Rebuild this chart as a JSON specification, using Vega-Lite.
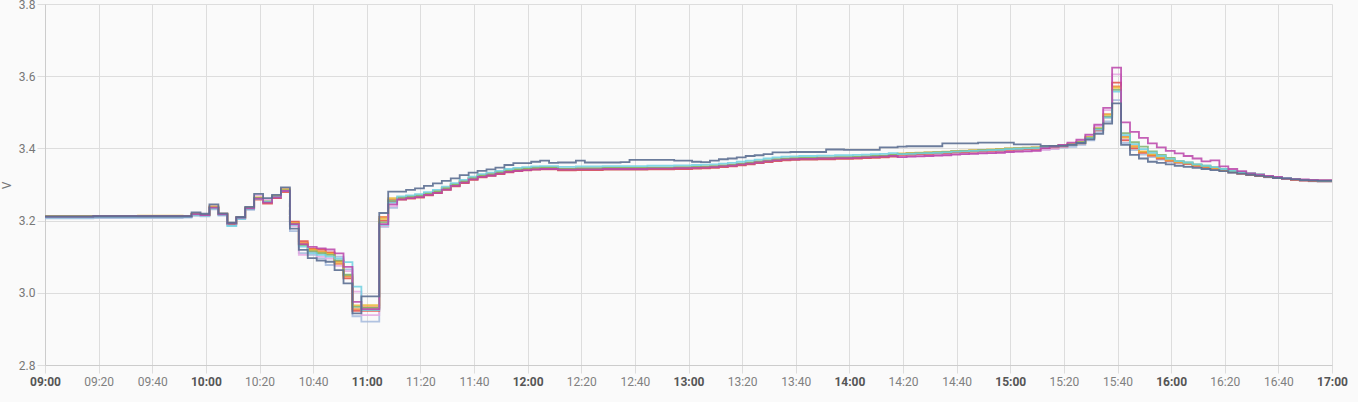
{
  "$schema": "https://vega.github.io/schema/vega-lite/v6.json",
  "autosize": "none",
  "width": 1287,
  "height": 361,
  "padding": {"left": 45, "top": 4, "right": 26, "bottom": 37},
  "background": "#fafafa",
  "config": {
    "view": {"stroke": null},
    "font": "Roboto",
    "axis": {
      "gridColor": "#dddddd",
      "domainColor": "#cccccc",
      "tickColor": "#dddddd",
      "tickSize": 8,
      "labelFont": "Roboto",
      "labelFontSize": 12,
      "labelColor": "#777777"
    }
  },
  "datasets": {
    "A": [
      {"t":-120,"v":3.211},{"t":1080,"v":3.212},{"t":2080,"v":3.212},{"t":3080,"v":3.212},
      {"t":3280,"v":3.223},{"t":3480,"v":3.219},{"t":3680,"v":3.245},{"t":3880,"v":3.22},{"t":4080,"v":3.194},{"t":4280,"v":3.21},{"t":4480,"v":3.238},{"t":4680,"v":3.274},{"t":4880,"v":3.262},{"t":5080,"v":3.271},{"t":5280,"v":3.292},
      {"t":5480,"v":3.178},{"t":5680,"v":3.119},{"t":5880,"v":3.096},{"t":6080,"v":3.089},{"t":6280,"v":3.086},{"t":6480,"v":3.063},{"t":6680,"v":3.026},{"t":6880,"v":2.943},{"t":7080,"v":2.99},{"t":7480,"v":3.221},{"t":7680,"v":3.28},
      {"t":7880,"v":3.28},{"t":8080,"v":3.285},{"t":8280,"v":3.289},{"t":8480,"v":3.296},{"t":8680,"v":3.303},{"t":8880,"v":3.31},{"t":9080,"v":3.317},{"t":9280,"v":3.326},{"t":9480,"v":3.333},{"t":9680,"v":3.338},{"t":9880,"v":3.342},{"t":10080,"v":3.347},{"t":10280,"v":3.354},{"t":10480,"v":3.359},{"t":10680,"v":3.359},{"t":10880,"v":3.363},{"t":11080,"v":3.366},{"t":11280,"v":3.36},
      {"t":11480,"v":3.361},{"t":11680,"v":3.361},{"t":11880,"v":3.366},{"t":12080,"v":3.361},{"t":12280,"v":3.361},{"t":12480,"v":3.361},{"t":12680,"v":3.361},{"t":12880,"v":3.362},{"t":13080,"v":3.368},{"t":13280,"v":3.368},{"t":13480,"v":3.368},{"t":13680,"v":3.368},{"t":13880,"v":3.368},{"t":14080,"v":3.366},{"t":14280,"v":3.366},{"t":14480,"v":3.363},{"t":14680,"v":3.362},{"t":14880,"v":3.366},{"t":15080,"v":3.37},{"t":15280,"v":3.372},{"t":15480,"v":3.375},{"t":15680,"v":3.379},{"t":15880,"v":3.381},{"t":16080,"v":3.384},{"t":16280,"v":3.389},{"t":16480,"v":3.389},{"t":16680,"v":3.39},{"t":16880,"v":3.39},{"t":17080,"v":3.39},{"t":17280,"v":3.39},{"t":17480,"v":3.397},{"t":17680,"v":3.397},{"t":17880,"v":3.396},{"t":18080,"v":3.396},{"t":18280,"v":3.396},{"t":18480,"v":3.396},{"t":18680,"v":3.403},{"t":18880,"v":3.403},
      {"t":19080,"v":3.405},{"t":19280,"v":3.406},{"t":19480,"v":3.406},{"t":19680,"v":3.406},{"t":19880,"v":3.406},{"t":20080,"v":3.414},{"t":20280,"v":3.414},{"t":20480,"v":3.414},{"t":20680,"v":3.414},{"t":20880,"v":3.416},{"t":21080,"v":3.416},{"t":21280,"v":3.416},{"t":21480,"v":3.416},{"t":21680,"v":3.411},{"t":21880,"v":3.411},{"t":22080,"v":3.411},{"t":22280,"v":3.407},{"t":22480,"v":3.407},{"t":22680,"v":3.407},
      {"t":22880,"v":3.41},{"t":23080,"v":3.415},{"t":23280,"v":3.425},{"t":23480,"v":3.44},{"t":23680,"v":3.469},{"t":23880,"v":3.525},{"t":24080,"v":3.41},{"t":24280,"v":3.382},{"t":24480,"v":3.372},{"t":24680,"v":3.363},{"t":24880,"v":3.36},{"t":25080,"v":3.356},
      {"t":25280,"v":3.352},{"t":25480,"v":3.349},{"t":25680,"v":3.346},{"t":25880,"v":3.343},{"t":26080,"v":3.34},{"t":26280,"v":3.337},{"t":26480,"v":3.333},{"t":26680,"v":3.33},{"t":26880,"v":3.327},{"t":27080,"v":3.324},{"t":27280,"v":3.321},{"t":27480,"v":3.318},{"t":27680,"v":3.316},{"t":27880,"v":3.314},{"t":28080,"v":3.312},{"t":28280,"v":3.311},{"t":28480,"v":3.31},{"t":28680,"v":3.31},{"t":28880,"v":3.31}
    ],
    "B": [
      {"t":-120,"v":3.212},{"t":1080,"v":3.213},{"t":2080,"v":3.213},{"t":3080,"v":3.213},
      {"t":3280,"v":3.218},{"t":3480,"v":3.215},{"t":3680,"v":3.236},{"t":3880,"v":3.218},{"t":4080,"v":3.192},{"t":4280,"v":3.208},{"t":4480,"v":3.234},{"t":4680,"v":3.262},{"t":4880,"v":3.252},{"t":5080,"v":3.266},{"t":5280,"v":3.284},
      {"t":5480,"v":3.19},{"t":5680,"v":3.132},{"t":5880,"v":3.115},{"t":6080,"v":3.11},{"t":6280,"v":3.105},{"t":6480,"v":3.09},{"t":6680,"v":3.05},{"t":6880,"v":2.961},{"t":7080,"v":2.958},{"t":7480,"v":3.195},{"t":7680,"v":3.255},
      {"t":7880,"v":3.263},{"t":8080,"v":3.266},{"t":8280,"v":3.269},{"t":8480,"v":3.275},{"t":8680,"v":3.281},{"t":8880,"v":3.29},{"t":9080,"v":3.3},{"t":9280,"v":3.309},{"t":9480,"v":3.318},{"t":9680,"v":3.325},{"t":9880,"v":3.329},{"t":10080,"v":3.334},{"t":10280,"v":3.339},{"t":10480,"v":3.342},{"t":10680,"v":3.344},{"t":10880,"v":3.346},{"t":11080,"v":3.347},{"t":11280,"v":3.347},
      {"t":11480,"v":3.344},{"t":11680,"v":3.344},{"t":11880,"v":3.345},{"t":12080,"v":3.345},{"t":12280,"v":3.345},{"t":12480,"v":3.346},{"t":12680,"v":3.346},{"t":12880,"v":3.346},{"t":13080,"v":3.346},{"t":13280,"v":3.346},{"t":13480,"v":3.347},{"t":13680,"v":3.347},{"t":13880,"v":3.347},{"t":14080,"v":3.348},{"t":14280,"v":3.348},{"t":14480,"v":3.349},{"t":14680,"v":3.35},{"t":14880,"v":3.351},{"t":15080,"v":3.353},{"t":15280,"v":3.355},{"t":15480,"v":3.358},{"t":15680,"v":3.361},{"t":15880,"v":3.364},{"t":16080,"v":3.367},{"t":16280,"v":3.37},{"t":16480,"v":3.372},{"t":16680,"v":3.373},{"t":16880,"v":3.374},{"t":17080,"v":3.374},{"t":17280,"v":3.375},{"t":17480,"v":3.375},{"t":17680,"v":3.376},{"t":17880,"v":3.376},{"t":18080,"v":3.377},{"t":18280,"v":3.378},{"t":18480,"v":3.379},{"t":18680,"v":3.38},{"t":18880,"v":3.382},
      {"t":19080,"v":3.385},{"t":19280,"v":3.386},{"t":19480,"v":3.387},{"t":19680,"v":3.388},{"t":19880,"v":3.389},{"t":20080,"v":3.39},{"t":20280,"v":3.392},{"t":20480,"v":3.393},{"t":20680,"v":3.394},{"t":20880,"v":3.395},{"t":21080,"v":3.396},{"t":21280,"v":3.397},{"t":21480,"v":3.399},{"t":21680,"v":3.4},{"t":21880,"v":3.401},{"t":22080,"v":3.402},{"t":22280,"v":3.404},{"t":22480,"v":3.406},{"t":22680,"v":3.409},
      {"t":22880,"v":3.411},{"t":23080,"v":3.417},{"t":23280,"v":3.43},{"t":23480,"v":3.455},{"t":23680,"v":3.488},{"t":23880,"v":3.562},{"t":24080,"v":3.442},{"t":24280,"v":3.417},{"t":24480,"v":3.405},{"t":24680,"v":3.392},{"t":24880,"v":3.382},{"t":25080,"v":3.374},
      {"t":25280,"v":3.365},{"t":25480,"v":3.361},{"t":25680,"v":3.356},{"t":25880,"v":3.352},{"t":26080,"v":3.348},{"t":26280,"v":3.343},{"t":26480,"v":3.338},{"t":26680,"v":3.334},{"t":26880,"v":3.331},{"t":27080,"v":3.328},{"t":27280,"v":3.323},{"t":27480,"v":3.321},{"t":27680,"v":3.318},{"t":27880,"v":3.315},{"t":28080,"v":3.313},{"t":28280,"v":3.312},{"t":28480,"v":3.311},{"t":28680,"v":3.311},{"t":28880,"v":3.311}
    ],
    "C": [
      {"t":-120,"v":3.212},{"t":1080,"v":3.213},{"t":2080,"v":3.214},{"t":3080,"v":3.213},
      {"t":3280,"v":3.219},{"t":3480,"v":3.216},{"t":3680,"v":3.239},{"t":3880,"v":3.219},{"t":4080,"v":3.193},{"t":4280,"v":3.209},{"t":4480,"v":3.236},{"t":4680,"v":3.264},{"t":4880,"v":3.254},{"t":5080,"v":3.268},{"t":5280,"v":3.287},
      {"t":5480,"v":3.192},{"t":5680,"v":3.135},{"t":5880,"v":3.118},{"t":6080,"v":3.112},{"t":6280,"v":3.108},{"t":6480,"v":3.085},{"t":6680,"v":3.048},{"t":6880,"v":2.965},{"t":7080,"v":2.966},{"t":7480,"v":3.205},{"t":7680,"v":3.262},
      {"t":7880,"v":3.264},{"t":8080,"v":3.267},{"t":8280,"v":3.27},{"t":8480,"v":3.276},{"t":8680,"v":3.282},{"t":8880,"v":3.291},{"t":9080,"v":3.301},{"t":9280,"v":3.31},{"t":9480,"v":3.319},{"t":9680,"v":3.326},{"t":9880,"v":3.33},{"t":10080,"v":3.335},{"t":10280,"v":3.34},{"t":10480,"v":3.343},{"t":10680,"v":3.345},{"t":10880,"v":3.347},{"t":11080,"v":3.348},{"t":11280,"v":3.348},
      {"t":11480,"v":3.343},{"t":11680,"v":3.343},{"t":11880,"v":3.344},{"t":12080,"v":3.344},{"t":12280,"v":3.344},{"t":12480,"v":3.345},{"t":12680,"v":3.345},{"t":12880,"v":3.345},{"t":13080,"v":3.345},{"t":13280,"v":3.345},{"t":13480,"v":3.346},{"t":13680,"v":3.346},{"t":13880,"v":3.346},{"t":14080,"v":3.347},{"t":14280,"v":3.347},{"t":14480,"v":3.348},{"t":14680,"v":3.349},{"t":14880,"v":3.35},{"t":15080,"v":3.352},{"t":15280,"v":3.354},{"t":15480,"v":3.357},{"t":15680,"v":3.36},{"t":15880,"v":3.363},{"t":16080,"v":3.366},{"t":16280,"v":3.369},{"t":16480,"v":3.371},{"t":16680,"v":3.372},{"t":16880,"v":3.373},{"t":17080,"v":3.373},{"t":17280,"v":3.374},{"t":17480,"v":3.374},{"t":17680,"v":3.375},{"t":17880,"v":3.375},{"t":18080,"v":3.376},{"t":18280,"v":3.377},{"t":18480,"v":3.378},{"t":18680,"v":3.379},{"t":18880,"v":3.381},
      {"t":19080,"v":3.386},{"t":19280,"v":3.387},{"t":19480,"v":3.388},{"t":19680,"v":3.389},{"t":19880,"v":3.39},{"t":20080,"v":3.391},{"t":20280,"v":3.393},{"t":20480,"v":3.394},{"t":20680,"v":3.395},{"t":20880,"v":3.396},{"t":21080,"v":3.397},{"t":21280,"v":3.398},{"t":21480,"v":3.4},{"t":21680,"v":3.401},{"t":21880,"v":3.402},{"t":22080,"v":3.403},{"t":22280,"v":3.405},{"t":22480,"v":3.407},{"t":22680,"v":3.41},
      {"t":22880,"v":3.412},{"t":23080,"v":3.418},{"t":23280,"v":3.432},{"t":23480,"v":3.456},{"t":23680,"v":3.493},{"t":23880,"v":3.568},{"t":24080,"v":3.43},{"t":24280,"v":3.405},{"t":24480,"v":3.392},{"t":24680,"v":3.384},{"t":24880,"v":3.376},{"t":25080,"v":3.369},
      {"t":25280,"v":3.363},{"t":25480,"v":3.359},{"t":25680,"v":3.354},{"t":25880,"v":3.35},{"t":26080,"v":3.346},{"t":26280,"v":3.341},{"t":26480,"v":3.336},{"t":26680,"v":3.332},{"t":26880,"v":3.329},{"t":27080,"v":3.326},{"t":27280,"v":3.323},{"t":27480,"v":3.321},{"t":27680,"v":3.318},{"t":27880,"v":3.315},{"t":28080,"v":3.313},{"t":28280,"v":3.312},{"t":28480,"v":3.311},{"t":28680,"v":3.311},{"t":28880,"v":3.311}
    ],
    "D": [
      {"t":-120,"v":3.209},{"t":1080,"v":3.21},{"t":2080,"v":3.21},{"t":3080,"v":3.21},
      {"t":3280,"v":3.216},{"t":3480,"v":3.214},{"t":3680,"v":3.234},{"t":3880,"v":3.216},{"t":4080,"v":3.185},{"t":4280,"v":3.205},{"t":4480,"v":3.232},{"t":4680,"v":3.26},{"t":4880,"v":3.253},{"t":5080,"v":3.265},{"t":5280,"v":3.282},
      {"t":5480,"v":3.188},{"t":5680,"v":3.128},{"t":5880,"v":3.11},{"t":6080,"v":3.105},{"t":6280,"v":3.1},{"t":6480,"v":3.095},{"t":6680,"v":3.085},{"t":6880,"v":3.017},{"t":7080,"v":2.952},{"t":7480,"v":3.188},{"t":7680,"v":3.25},
      {"t":7880,"v":3.267},{"t":8080,"v":3.27},{"t":8280,"v":3.273},{"t":8480,"v":3.279},{"t":8680,"v":3.285},{"t":8880,"v":3.294},{"t":9080,"v":3.304},{"t":9280,"v":3.313},{"t":9480,"v":3.322},{"t":9680,"v":3.329},{"t":9880,"v":3.333},{"t":10080,"v":3.338},{"t":10280,"v":3.343},{"t":10480,"v":3.346},{"t":10680,"v":3.348},{"t":10880,"v":3.35},{"t":11080,"v":3.351},{"t":11280,"v":3.351},
      {"t":11480,"v":3.349},{"t":11680,"v":3.349},{"t":11880,"v":3.35},{"t":12080,"v":3.35},{"t":12280,"v":3.35},{"t":12480,"v":3.351},{"t":12680,"v":3.351},{"t":12880,"v":3.351},{"t":13080,"v":3.351},{"t":13280,"v":3.351},{"t":13480,"v":3.352},{"t":13680,"v":3.352},{"t":13880,"v":3.352},{"t":14080,"v":3.353},{"t":14280,"v":3.353},{"t":14480,"v":3.354},{"t":14680,"v":3.355},{"t":14880,"v":3.356},{"t":15080,"v":3.358},{"t":15280,"v":3.36},{"t":15480,"v":3.363},{"t":15680,"v":3.366},{"t":15880,"v":3.369},{"t":16080,"v":3.372},{"t":16280,"v":3.375},{"t":16480,"v":3.377},{"t":16680,"v":3.378},{"t":16880,"v":3.379},{"t":17080,"v":3.379},{"t":17280,"v":3.38},{"t":17480,"v":3.38},{"t":17680,"v":3.381},{"t":17880,"v":3.381},{"t":18080,"v":3.382},{"t":18280,"v":3.383},{"t":18480,"v":3.384},{"t":18680,"v":3.385},{"t":18880,"v":3.387},
      {"t":19080,"v":3.384},{"t":19280,"v":3.385},{"t":19480,"v":3.386},{"t":19680,"v":3.387},{"t":19880,"v":3.388},{"t":20080,"v":3.389},{"t":20280,"v":3.391},{"t":20480,"v":3.392},{"t":20680,"v":3.393},{"t":20880,"v":3.394},{"t":21080,"v":3.395},{"t":21280,"v":3.396},{"t":21480,"v":3.398},{"t":21680,"v":3.399},{"t":21880,"v":3.4},{"t":22080,"v":3.401},{"t":22280,"v":3.403},{"t":22480,"v":3.405},{"t":22680,"v":3.408},
      {"t":22880,"v":3.41},{"t":23080,"v":3.415},{"t":23280,"v":3.428},{"t":23480,"v":3.452},{"t":23680,"v":3.485},{"t":23880,"v":3.557},{"t":24080,"v":3.437},{"t":24280,"v":3.412},{"t":24480,"v":3.398},{"t":24680,"v":3.388},{"t":24880,"v":3.379},{"t":25080,"v":3.371},
      {"t":25280,"v":3.365},{"t":25480,"v":3.361},{"t":25680,"v":3.356},{"t":25880,"v":3.352},{"t":26080,"v":3.348},{"t":26280,"v":3.343},{"t":26480,"v":3.338},{"t":26680,"v":3.334},{"t":26880,"v":3.331},{"t":27080,"v":3.328},{"t":27280,"v":3.323},{"t":27480,"v":3.321},{"t":27680,"v":3.318},{"t":27880,"v":3.315},{"t":28080,"v":3.313},{"t":28280,"v":3.312},{"t":28480,"v":3.311},{"t":28680,"v":3.311},{"t":28880,"v":3.311}
    ],
    "E": [
      {"t":-120,"v":3.211},{"t":1080,"v":3.212},{"t":2080,"v":3.212},{"t":3080,"v":3.213},
      {"t":3280,"v":3.218},{"t":3480,"v":3.215},{"t":3680,"v":3.237},{"t":3880,"v":3.218},{"t":4080,"v":3.192},{"t":4280,"v":3.208},{"t":4480,"v":3.235},{"t":4680,"v":3.263},{"t":4880,"v":3.252},{"t":5080,"v":3.266},{"t":5280,"v":3.284},
      {"t":5480,"v":3.193},{"t":5680,"v":3.138},{"t":5880,"v":3.12},{"t":6080,"v":3.115},{"t":6280,"v":3.11},{"t":6480,"v":3.08},{"t":6680,"v":3.045},{"t":6880,"v":2.955},{"t":7080,"v":2.96},{"t":7480,"v":3.21},{"t":7680,"v":3.258},
      {"t":7880,"v":3.262},{"t":8080,"v":3.265},{"t":8280,"v":3.268},{"t":8480,"v":3.274},{"t":8680,"v":3.28},{"t":8880,"v":3.289},{"t":9080,"v":3.299},{"t":9280,"v":3.308},{"t":9480,"v":3.317},{"t":9680,"v":3.324},{"t":9880,"v":3.328},{"t":10080,"v":3.333},{"t":10280,"v":3.338},{"t":10480,"v":3.341},{"t":10680,"v":3.343},{"t":10880,"v":3.345},{"t":11080,"v":3.346},{"t":11280,"v":3.346},
      {"t":11480,"v":3.342},{"t":11680,"v":3.342},{"t":11880,"v":3.343},{"t":12080,"v":3.343},{"t":12280,"v":3.343},{"t":12480,"v":3.344},{"t":12680,"v":3.344},{"t":12880,"v":3.344},{"t":13080,"v":3.344},{"t":13280,"v":3.344},{"t":13480,"v":3.345},{"t":13680,"v":3.345},{"t":13880,"v":3.345},{"t":14080,"v":3.346},{"t":14280,"v":3.346},{"t":14480,"v":3.347},{"t":14680,"v":3.348},{"t":14880,"v":3.349},{"t":15080,"v":3.351},{"t":15280,"v":3.353},{"t":15480,"v":3.356},{"t":15680,"v":3.359},{"t":15880,"v":3.362},{"t":16080,"v":3.365},{"t":16280,"v":3.368},{"t":16480,"v":3.37},{"t":16680,"v":3.371},{"t":16880,"v":3.372},{"t":17080,"v":3.372},{"t":17280,"v":3.373},{"t":17480,"v":3.373},{"t":17680,"v":3.374},{"t":17880,"v":3.374},{"t":18080,"v":3.375},{"t":18280,"v":3.376},{"t":18480,"v":3.377},{"t":18680,"v":3.378},{"t":18880,"v":3.38},
      {"t":19080,"v":3.385},{"t":19280,"v":3.386},{"t":19480,"v":3.387},{"t":19680,"v":3.388},{"t":19880,"v":3.389},{"t":20080,"v":3.39},{"t":20280,"v":3.392},{"t":20480,"v":3.393},{"t":20680,"v":3.394},{"t":20880,"v":3.395},{"t":21080,"v":3.396},{"t":21280,"v":3.397},{"t":21480,"v":3.399},{"t":21680,"v":3.4},{"t":21880,"v":3.401},{"t":22080,"v":3.402},{"t":22280,"v":3.404},{"t":22480,"v":3.406},{"t":22680,"v":3.409},
      {"t":22880,"v":3.411},{"t":23080,"v":3.416},{"t":23280,"v":3.43},{"t":23480,"v":3.454},{"t":23680,"v":3.495},{"t":23880,"v":3.572},{"t":24080,"v":3.432},{"t":24280,"v":3.406},{"t":24480,"v":3.39},{"t":24680,"v":3.381},{"t":24880,"v":3.373},{"t":25080,"v":3.366},
      {"t":25280,"v":3.362},{"t":25480,"v":3.358},{"t":25680,"v":3.353},{"t":25880,"v":3.349},{"t":26080,"v":3.345},{"t":26280,"v":3.34},{"t":26480,"v":3.335},{"t":26680,"v":3.331},{"t":26880,"v":3.328},{"t":27080,"v":3.325},{"t":27280,"v":3.322},{"t":27480,"v":3.32},{"t":27680,"v":3.317},{"t":27880,"v":3.314},{"t":28080,"v":3.312},{"t":28280,"v":3.311},{"t":28480,"v":3.31},{"t":28680,"v":3.31},{"t":28880,"v":3.31}
    ],
    "F": [
      {"t":-120,"v":3.211},{"t":1080,"v":3.212},{"t":2080,"v":3.211},{"t":3080,"v":3.212},
      {"t":3280,"v":3.217},{"t":3480,"v":3.215},{"t":3680,"v":3.235},{"t":3880,"v":3.218},{"t":4080,"v":3.191},{"t":4280,"v":3.207},{"t":4480,"v":3.233},{"t":4680,"v":3.258},{"t":4880,"v":3.247},{"t":5080,"v":3.262},{"t":5280,"v":3.279},
      {"t":5480,"v":3.197},{"t":5680,"v":3.143},{"t":5880,"v":3.122},{"t":6080,"v":3.12},{"t":6280,"v":3.112},{"t":6480,"v":3.088},{"t":6680,"v":3.04},{"t":6880,"v":2.95},{"t":7080,"v":2.95},{"t":7480,"v":3.2},{"t":7680,"v":3.252},
      {"t":7880,"v":3.258},{"t":8080,"v":3.261},{"t":8280,"v":3.264},{"t":8480,"v":3.27},{"t":8680,"v":3.276},{"t":8880,"v":3.285},{"t":9080,"v":3.295},{"t":9280,"v":3.304},{"t":9480,"v":3.313},{"t":9680,"v":3.32},{"t":9880,"v":3.324},{"t":10080,"v":3.329},{"t":10280,"v":3.334},{"t":10480,"v":3.337},{"t":10680,"v":3.339},{"t":10880,"v":3.341},{"t":11080,"v":3.342},{"t":11280,"v":3.342},
      {"t":11480,"v":3.339},{"t":11680,"v":3.339},{"t":11880,"v":3.34},{"t":12080,"v":3.34},{"t":12280,"v":3.34},{"t":12480,"v":3.341},{"t":12680,"v":3.341},{"t":12880,"v":3.341},{"t":13080,"v":3.341},{"t":13280,"v":3.341},{"t":13480,"v":3.342},{"t":13680,"v":3.342},{"t":13880,"v":3.342},{"t":14080,"v":3.343},{"t":14280,"v":3.343},{"t":14480,"v":3.344},{"t":14680,"v":3.345},{"t":14880,"v":3.346},{"t":15080,"v":3.348},{"t":15280,"v":3.35},{"t":15480,"v":3.353},{"t":15680,"v":3.356},{"t":15880,"v":3.359},{"t":16080,"v":3.362},{"t":16280,"v":3.365},{"t":16480,"v":3.367},{"t":16680,"v":3.368},{"t":16880,"v":3.369},{"t":17080,"v":3.369},{"t":17280,"v":3.37},{"t":17480,"v":3.37},{"t":17680,"v":3.371},{"t":17880,"v":3.371},{"t":18080,"v":3.372},{"t":18280,"v":3.373},{"t":18480,"v":3.374},{"t":18680,"v":3.375},{"t":18880,"v":3.377},
      {"t":19080,"v":3.382},{"t":19280,"v":3.383},{"t":19480,"v":3.384},{"t":19680,"v":3.385},{"t":19880,"v":3.386},{"t":20080,"v":3.387},{"t":20280,"v":3.389},{"t":20480,"v":3.39},{"t":20680,"v":3.391},{"t":20880,"v":3.392},{"t":21080,"v":3.393},{"t":21280,"v":3.394},{"t":21480,"v":3.396},{"t":21680,"v":3.397},{"t":21880,"v":3.398},{"t":22080,"v":3.399},{"t":22280,"v":3.401},{"t":22480,"v":3.403},{"t":22680,"v":3.406},
      {"t":22880,"v":3.409},{"t":23080,"v":3.414},{"t":23280,"v":3.427},{"t":23480,"v":3.45},{"t":23680,"v":3.486},{"t":23880,"v":3.582},{"t":24080,"v":3.422},{"t":24280,"v":3.4},{"t":24480,"v":3.388},{"t":24680,"v":3.38},{"t":24880,"v":3.372},{"t":25080,"v":3.366},
      {"t":25280,"v":3.361},{"t":25480,"v":3.357},{"t":25680,"v":3.352},{"t":25880,"v":3.348},{"t":26080,"v":3.344},{"t":26280,"v":3.339},{"t":26480,"v":3.334},{"t":26680,"v":3.33},{"t":26880,"v":3.327},{"t":27080,"v":3.324},{"t":27280,"v":3.321},{"t":27480,"v":3.319},{"t":27680,"v":3.316},{"t":27880,"v":3.313},{"t":28080,"v":3.311},{"t":28280,"v":3.31},{"t":28480,"v":3.309},{"t":28680,"v":3.309},{"t":28880,"v":3.309}
    ],
    "G": [
      {"t":-120,"v":3.211},{"t":1080,"v":3.212},{"t":2080,"v":3.212},{"t":3080,"v":3.212},
      {"t":3280,"v":3.218},{"t":3480,"v":3.215},{"t":3680,"v":3.236},{"t":3880,"v":3.217},{"t":4080,"v":3.192},{"t":4280,"v":3.208},{"t":4480,"v":3.234},{"t":4680,"v":3.261},{"t":4880,"v":3.25},{"t":5080,"v":3.264},{"t":5280,"v":3.282},
      {"t":5480,"v":3.19},{"t":5680,"v":3.135},{"t":5880,"v":3.127},{"t":6080,"v":3.123},{"t":6280,"v":3.12},{"t":6480,"v":3.109},{"t":6680,"v":3.072},{"t":6880,"v":2.975},{"t":7080,"v":2.955},{"t":7480,"v":3.19},{"t":7680,"v":3.245},
      {"t":7880,"v":3.259},{"t":8080,"v":3.262},{"t":8280,"v":3.265},{"t":8480,"v":3.271},{"t":8680,"v":3.277},{"t":8880,"v":3.286},{"t":9080,"v":3.296},{"t":9280,"v":3.305},{"t":9480,"v":3.314},{"t":9680,"v":3.321},{"t":9880,"v":3.325},{"t":10080,"v":3.33},{"t":10280,"v":3.335},{"t":10480,"v":3.338},{"t":10680,"v":3.34},{"t":10880,"v":3.342},{"t":11080,"v":3.343},{"t":11280,"v":3.343},
      {"t":11480,"v":3.341},{"t":11680,"v":3.341},{"t":11880,"v":3.342},{"t":12080,"v":3.342},{"t":12280,"v":3.342},{"t":12480,"v":3.343},{"t":12680,"v":3.343},{"t":12880,"v":3.343},{"t":13080,"v":3.343},{"t":13280,"v":3.343},{"t":13480,"v":3.344},{"t":13680,"v":3.344},{"t":13880,"v":3.344},{"t":14080,"v":3.345},{"t":14280,"v":3.345},{"t":14480,"v":3.346},{"t":14680,"v":3.347},{"t":14880,"v":3.348},{"t":15080,"v":3.35},{"t":15280,"v":3.352},{"t":15480,"v":3.355},{"t":15680,"v":3.358},{"t":15880,"v":3.361},{"t":16080,"v":3.364},{"t":16280,"v":3.367},{"t":16480,"v":3.369},{"t":16680,"v":3.37},{"t":16880,"v":3.371},{"t":17080,"v":3.371},{"t":17280,"v":3.372},{"t":17480,"v":3.372},{"t":17680,"v":3.373},{"t":17880,"v":3.373},{"t":18080,"v":3.374},{"t":18280,"v":3.375},{"t":18480,"v":3.376},{"t":18680,"v":3.377},{"t":18880,"v":3.379},
      {"t":19080,"v":3.376},{"t":19280,"v":3.377},{"t":19480,"v":3.378},{"t":19680,"v":3.379},{"t":19880,"v":3.38},{"t":20080,"v":3.381},{"t":20280,"v":3.383},{"t":20480,"v":3.384},{"t":20680,"v":3.385},{"t":20880,"v":3.386},{"t":21080,"v":3.387},{"t":21280,"v":3.388},{"t":21480,"v":3.39},{"t":21680,"v":3.391},{"t":21880,"v":3.392},{"t":22080,"v":3.393},{"t":22280,"v":3.401},{"t":22480,"v":3.405},{"t":22680,"v":3.41},
      {"t":22880,"v":3.416},{"t":23080,"v":3.424},{"t":23280,"v":3.438},{"t":23480,"v":3.466},{"t":23680,"v":3.512},{"t":23880,"v":3.624},{"t":24080,"v":3.472},{"t":24280,"v":3.446},{"t":24480,"v":3.429},{"t":24680,"v":3.414},{"t":24880,"v":3.403},{"t":25080,"v":3.393},
      {"t":25280,"v":3.386},{"t":25480,"v":3.379},{"t":25680,"v":3.372},{"t":25880,"v":3.364},{"t":26080,"v":3.367},{"t":26280,"v":3.35},{"t":26480,"v":3.343},{"t":26680,"v":3.337},{"t":26880,"v":3.331},{"t":27080,"v":3.327},{"t":27280,"v":3.324},{"t":27480,"v":3.321},{"t":27680,"v":3.317},{"t":27880,"v":3.315},{"t":28080,"v":3.314},{"t":28280,"v":3.313},{"t":28480,"v":3.312},{"t":28680,"v":3.312},{"t":28880,"v":3.312}
    ],
    "H": [
      {"t":-120,"v":3.212},{"t":1080,"v":3.213},{"t":2080,"v":3.213},{"t":3080,"v":3.213},
      {"t":3280,"v":3.219},{"t":3480,"v":3.216},{"t":3680,"v":3.24},{"t":3880,"v":3.219},{"t":4080,"v":3.193},{"t":4280,"v":3.209},{"t":4480,"v":3.236},{"t":4680,"v":3.27},{"t":4880,"v":3.258},{"t":5080,"v":3.268},{"t":5280,"v":3.289},
      {"t":5480,"v":3.185},{"t":5680,"v":3.105},{"t":5880,"v":3.113},{"t":6080,"v":3.1},{"t":6280,"v":3.095},{"t":6480,"v":3.075},{"t":6680,"v":3.06},{"t":6880,"v":3.003},{"t":7080,"v":2.938},{"t":7480,"v":3.185},{"t":7680,"v":3.24},
      {"t":7880,"v":3.26},{"t":8080,"v":3.263},{"t":8280,"v":3.266},{"t":8480,"v":3.272},{"t":8680,"v":3.278},{"t":8880,"v":3.287},{"t":9080,"v":3.297},{"t":9280,"v":3.306},{"t":9480,"v":3.315},{"t":9680,"v":3.322},{"t":9880,"v":3.326},{"t":10080,"v":3.331},{"t":10280,"v":3.336},{"t":10480,"v":3.339},{"t":10680,"v":3.341},{"t":10880,"v":3.343},{"t":11080,"v":3.344},{"t":11280,"v":3.344},
      {"t":11480,"v":3.342},{"t":11680,"v":3.342},{"t":11880,"v":3.343},{"t":12080,"v":3.343},{"t":12280,"v":3.343},{"t":12480,"v":3.344},{"t":12680,"v":3.344},{"t":12880,"v":3.344},{"t":13080,"v":3.344},{"t":13280,"v":3.344},{"t":13480,"v":3.345},{"t":13680,"v":3.345},{"t":13880,"v":3.345},{"t":14080,"v":3.346},{"t":14280,"v":3.346},{"t":14480,"v":3.347},{"t":14680,"v":3.348},{"t":14880,"v":3.349},{"t":15080,"v":3.351},{"t":15280,"v":3.353},{"t":15480,"v":3.356},{"t":15680,"v":3.359},{"t":15880,"v":3.362},{"t":16080,"v":3.365},{"t":16280,"v":3.368},{"t":16480,"v":3.37},{"t":16680,"v":3.371},{"t":16880,"v":3.372},{"t":17080,"v":3.372},{"t":17280,"v":3.373},{"t":17480,"v":3.373},{"t":17680,"v":3.374},{"t":17880,"v":3.374},{"t":18080,"v":3.375},{"t":18280,"v":3.376},{"t":18480,"v":3.377},{"t":18680,"v":3.378},{"t":18880,"v":3.38},
      {"t":19080,"v":3.377},{"t":19280,"v":3.378},{"t":19480,"v":3.379},{"t":19680,"v":3.38},{"t":19880,"v":3.381},{"t":20080,"v":3.382},{"t":20280,"v":3.384},{"t":20480,"v":3.385},{"t":20680,"v":3.386},{"t":20880,"v":3.387},{"t":21080,"v":3.388},{"t":21280,"v":3.389},{"t":21480,"v":3.391},{"t":21680,"v":3.392},{"t":21880,"v":3.393},{"t":22080,"v":3.394},{"t":22280,"v":3.396},{"t":22480,"v":3.399},{"t":22680,"v":3.404},
      {"t":22880,"v":3.413},{"t":23080,"v":3.42},{"t":23280,"v":3.435},{"t":23480,"v":3.462},{"t":23680,"v":3.506},{"t":23880,"v":3.605},{"t":24080,"v":3.425},{"t":24280,"v":3.403},{"t":24480,"v":3.39},{"t":24680,"v":3.382},{"t":24880,"v":3.374},{"t":25080,"v":3.367},
      {"t":25280,"v":3.362},{"t":25480,"v":3.358},{"t":25680,"v":3.353},{"t":25880,"v":3.349},{"t":26080,"v":3.345},{"t":26280,"v":3.34},{"t":26480,"v":3.335},{"t":26680,"v":3.331},{"t":26880,"v":3.328},{"t":27080,"v":3.325},{"t":27280,"v":3.322},{"t":27480,"v":3.32},{"t":27680,"v":3.317},{"t":27880,"v":3.314},{"t":28080,"v":3.312},{"t":28280,"v":3.311},{"t":28480,"v":3.31},{"t":28680,"v":3.31},{"t":28880,"v":3.31}
    ],
    "I": [
      {"t":-120,"v":3.206},{"t":1080,"v":3.207},{"t":2080,"v":3.207},{"t":3080,"v":3.208},
      {"t":3280,"v":3.213},{"t":3480,"v":3.212},{"t":3680,"v":3.231},{"t":3880,"v":3.214},{"t":4080,"v":3.187},{"t":4280,"v":3.204},{"t":4480,"v":3.23},{"t":4680,"v":3.262},{"t":4880,"v":3.251},{"t":5080,"v":3.264},{"t":5280,"v":3.282},
      {"t":5480,"v":3.171},{"t":5680,"v":3.11},{"t":5880,"v":3.105},{"t":6080,"v":3.095},{"t":6280,"v":3.077},{"t":6480,"v":3.1},{"t":6680,"v":3.065},{"t":6880,"v":2.935},{"t":7080,"v":2.92},{"t":7480,"v":3.183},{"t":7680,"v":3.235},
      {"t":7880,"v":3.259},{"t":8080,"v":3.262},{"t":8280,"v":3.265},{"t":8480,"v":3.271},{"t":8680,"v":3.277},{"t":8880,"v":3.286},{"t":9080,"v":3.296},{"t":9280,"v":3.305},{"t":9480,"v":3.314},{"t":9680,"v":3.321},{"t":9880,"v":3.325},{"t":10080,"v":3.33},{"t":10280,"v":3.335},{"t":10480,"v":3.338},{"t":10680,"v":3.34},{"t":10880,"v":3.342},{"t":11080,"v":3.343},{"t":11280,"v":3.343},
      {"t":11480,"v":3.34},{"t":11680,"v":3.34},{"t":11880,"v":3.341},{"t":12080,"v":3.341},{"t":12280,"v":3.341},{"t":12480,"v":3.342},{"t":12680,"v":3.342},{"t":12880,"v":3.342},{"t":13080,"v":3.342},{"t":13280,"v":3.342},{"t":13480,"v":3.343},{"t":13680,"v":3.343},{"t":13880,"v":3.343},{"t":14080,"v":3.344},{"t":14280,"v":3.344},{"t":14480,"v":3.345},{"t":14680,"v":3.346},{"t":14880,"v":3.347},{"t":15080,"v":3.349},{"t":15280,"v":3.351},{"t":15480,"v":3.354},{"t":15680,"v":3.357},{"t":15880,"v":3.36},{"t":16080,"v":3.363},{"t":16280,"v":3.366},{"t":16480,"v":3.368},{"t":16680,"v":3.369},{"t":16880,"v":3.37},{"t":17080,"v":3.37},{"t":17280,"v":3.371},{"t":17480,"v":3.371},{"t":17680,"v":3.372},{"t":17880,"v":3.372},{"t":18080,"v":3.373},{"t":18280,"v":3.374},{"t":18480,"v":3.375},{"t":18680,"v":3.376},{"t":18880,"v":3.378},
      {"t":19080,"v":3.378},{"t":19280,"v":3.379},{"t":19480,"v":3.38},{"t":19680,"v":3.381},{"t":19880,"v":3.382},{"t":20080,"v":3.383},{"t":20280,"v":3.385},{"t":20480,"v":3.386},{"t":20680,"v":3.387},{"t":20880,"v":3.388},{"t":21080,"v":3.389},{"t":21280,"v":3.39},{"t":21480,"v":3.392},{"t":21680,"v":3.393},{"t":21880,"v":3.394},{"t":22080,"v":3.395},{"t":22280,"v":3.397},{"t":22480,"v":3.399},{"t":22680,"v":3.402},
      {"t":22880,"v":3.404},{"t":23080,"v":3.41},{"t":23280,"v":3.422},{"t":23480,"v":3.445},{"t":23680,"v":3.475},{"t":23880,"v":3.534},{"t":24080,"v":3.415},{"t":24280,"v":3.395},{"t":24480,"v":3.383},{"t":24680,"v":3.376},{"t":24880,"v":3.369},{"t":25080,"v":3.363},
      {"t":25280,"v":3.36},{"t":25480,"v":3.356},{"t":25680,"v":3.351},{"t":25880,"v":3.347},{"t":26080,"v":3.343},{"t":26280,"v":3.338},{"t":26480,"v":3.333},{"t":26680,"v":3.329},{"t":26880,"v":3.326},{"t":27080,"v":3.323},{"t":27280,"v":3.32},{"t":27480,"v":3.318},{"t":27680,"v":3.315},{"t":27880,"v":3.312},{"t":28080,"v":3.31},{"t":28280,"v":3.309},{"t":28480,"v":3.308},{"t":28680,"v":3.308},{"t":28880,"v":3.308}
    ]
  },
  "encoding": {
    "x": {
      "field": "t",
      "type": "quantitative",
      "scale": {"domain": [0, 28800], "nice": false, "zero": false},
      "axis": {
        "title": null,
        "values": [0,1200,2400,3600,4800,6000,7200,8400,9600,10800,12000,13200,14400,15600,16800,18000,19200,20400,21600,22800,24000,25200,26400,27600,28800],
        "labelExpr": "timeFormat(datetime(2000, 0, 1, 9, 0, datum.value), '%H:%M')",
        "labelFlush": false,
        "labelOverlap": false,
        "labelPadding": 3,
        "labelFontWeight": {"condition": {"test": "datum.value % 3600 == 0", "value": "bold"}, "value": "normal"},
        "labelColor": {"condition": {"test": "datum.value % 3600 == 0", "value": "#555555"}, "value": "#808080"}
      }
    },
    "y": {
      "field": "v",
      "type": "quantitative",
      "scale": {"domain": [2.8, 3.8], "nice": false, "zero": false},
      "axis": {
        "title": "V",
        "values": [2.8, 3.0, 3.2, 3.4, 3.6, 3.8],
        "format": ".1f",
        "labelPadding": 2,
        "titleX": -39,
        "titleY": 181,
        "titleAlign": "center",
        "titleBaseline": "middle",
        "titleFontWeight": "normal",
        "titleFontSize": 12,
        "titleColor": "#777777"
      }
    }
  },
  "layer": [
    {"data": {"name": "I"}, "mark": {"type": "line", "interpolate": "step-after", "clip": true, "strokeWidth": 1.8, "opacity": 0.85, "color": "#A3B8DC"}},
    {"data": {"name": "H"}, "mark": {"type": "line", "interpolate": "step-after", "clip": true, "strokeWidth": 1.8, "opacity": 0.85, "color": "#E5A8E2"}},
    {"data": {"name": "F"}, "mark": {"type": "line", "interpolate": "step-after", "clip": true, "strokeWidth": 1.8, "opacity": 0.85, "color": "#E24D42"}},
    {"data": {"name": "E"}, "mark": {"type": "line", "interpolate": "step-after", "clip": true, "strokeWidth": 1.8, "opacity": 0.85, "color": "#EF843C"}},
    {"data": {"name": "C"}, "mark": {"type": "line", "interpolate": "step-after", "clip": true, "strokeWidth": 1.8, "opacity": 0.85, "color": "#EAB839"}},
    {"data": {"name": "B"}, "mark": {"type": "line", "interpolate": "step-after", "clip": true, "strokeWidth": 1.8, "opacity": 0.85, "color": "#7EB26D"}},
    {"data": {"name": "D"}, "mark": {"type": "line", "interpolate": "step-after", "clip": true, "strokeWidth": 1.8, "opacity": 0.85, "color": "#6ED0E0"}},
    {"data": {"name": "G"}, "mark": {"type": "line", "interpolate": "step-after", "clip": true, "strokeWidth": 1.8, "opacity": 0.85, "color": "#BA43A9"}},
    {"data": {"name": "A"}, "mark": {"type": "line", "interpolate": "step-after", "clip": true, "strokeWidth": 1.8, "opacity": 0.9, "color": "#5B6E91"}}
  ]
}
